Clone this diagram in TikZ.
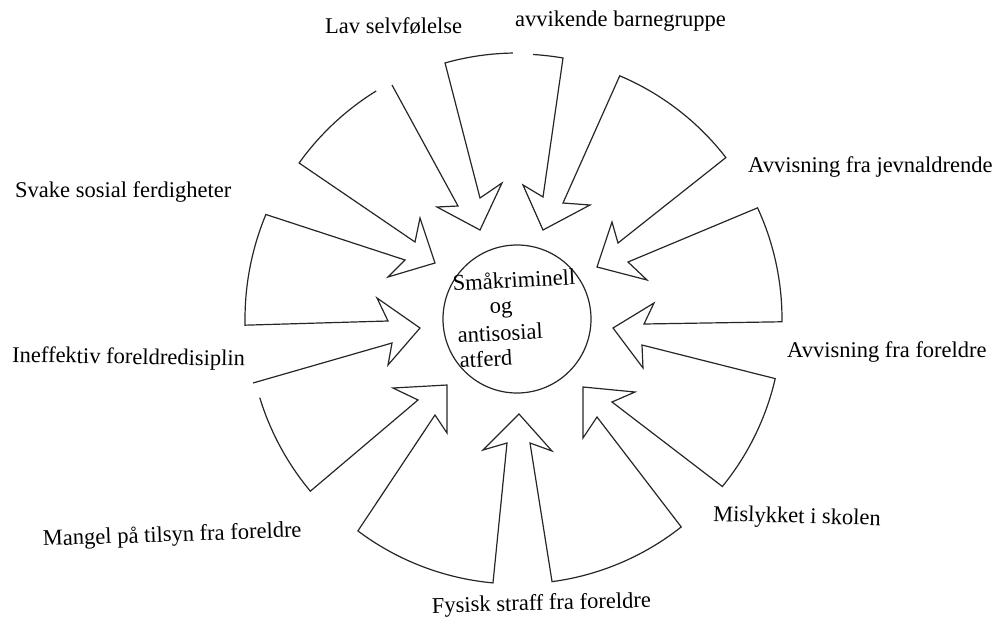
\documentclass[tikz,border=0pt]{standalone}
\usepackage{fontspec}
\setmainfont{Liberation Serif}
\usetikzlibrary{calc}
\begin{document}
\begin{tikzpicture}[x=1pt,y=-1pt,
  outline/.style={draw=black!85, line width=1.2pt, line join=miter},
  hub/.style={circle, draw=black!85, line width=1.2pt, minimum size=148pt, inner sep=0pt},
  lbl/.style={anchor=base west, inner sep=0pt, font=\fontsize{22.5}{27}\selectfont, text=black},
]
\useasboundingbox (0,0) rectangle (996,632);
\coordinate (c) at (517,319);

% central circle and its text
\node[hub] (core) at (c) {};
\node[lbl, rotate=3] (t1) at (453,291) {Småkriminell};
\node[lbl, rotate=3] (t2) at (490,314) {og};
\node[lbl, rotate=3] (t3) at (458,343) {antisosial};
\node[lbl, rotate=3] (t4) at (460,368) {atferd};

% ring of wedges with inward arrowheads, drawn clockwise from the top
\draw[outline]
  (392,85) -- (458,206) -- (437,207) -- (480,230) -- (502,183) -- (480,198)
  -- ($(c)+(-105.7:266)$) arc[start angle=-105.7, end angle=-90.9, radius=266]
  ($(c)+(-86.5:265)$) arc[start angle=-86.5, end angle=-80, radius=265]
  -- (543,197) -- (523,185) -- (543,230) -- (590,205) -- (563,203)
  -- ($(c)+(-67.1:264)$) arc[start angle=-67.1, end angle=-37.7, radius=264]
  -- (618,243) -- (612,222) -- (597,267) -- (647,280) -- (628,262)
  -- ($(c)+(-24.8:265)$) arc[start angle=-24.8, end angle=0.6, radius=265]
  -- (644,324) -- (654,303) -- (613,328) -- (643,368) -- (642,345)
  -- ($(c)+(13:265)$) arc[start angle=13, end angle=39.2, radius=265]
  -- (612,402) -- (635,392) -- (583,387) -- (583,438) -- (597,417)
  -- ($(c)+(51.7:265)$) arc[start angle=51.7, end angle=82.4, radius=265]
  -- (530,443) -- (552,451) -- (519,414) -- (483,450) -- (507,443)
  -- ($(c)+(95.2:265)$) arc[start angle=95.2, end angle=126.9, radius=265]
  -- (435,415) -- (447,433) -- (447,385) -- (393,388) -- (418,400)
  -- ($(c)+(140.2:269)$) arc[start angle=140.2, end angle=163, radius=269]
  (253,383) -- (392,343) -- (388,365) -- (420,328) -- (377,298) -- (388,321)
  -- ($(c)+(178.7:272)$) arc[start angle=178.7, end angle=202.6, radius=272]
  -- (405,260) -- (388,277) -- (435,263) -- (420,218) -- (415,242)
  -- ($(c)+(215.6:268)$) arc[start angle=215.6, end angle=238.3, radius=268];

% labels at the open ends of the arrows
\node[lbl] (l1) at (325,33) {Lav selvfølelse};
\node[lbl] (l2) at (515,26) {avvikende barnegruppe};
\node[lbl] (l3) at (748,172) {Avvisning fra jevnaldrende};
\node[lbl] (l4) at (787,357) {Avvisning fra foreldre};
\node[lbl, rotate=-1.5] (l5) at (713,521) {Mislykket i skolen};
\node[lbl, rotate=1.5] (l6) at (432,613) {Fysisk straff fra foreldre};
\node[lbl, rotate=2] (l7) at (43,546) {Mangel på tilsyn fra foreldre};
\node[lbl, rotate=-1] (l8) at (12,362) {Ineffektiv foreldredisiplin};
\node[lbl] (l9) at (15,197) {Svake sosial ferdigheter};
\end{tikzpicture}
\end{document}
